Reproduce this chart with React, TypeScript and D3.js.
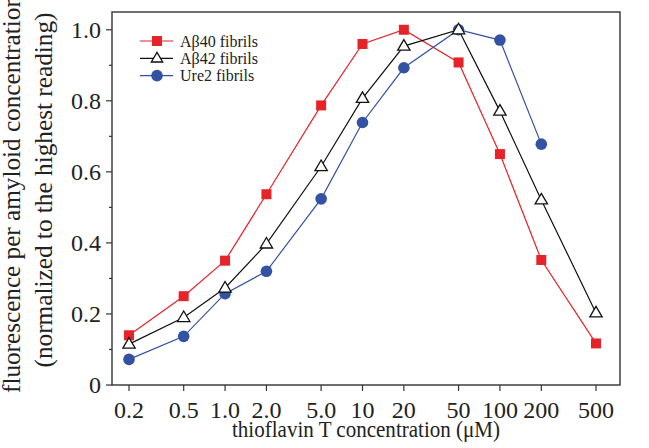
import React from "react";
import * as d3 from "d3";

const concentrations = [0.2, 0.5, 1.0, 2.0, 5.0, 10, 20, 50, 100, 200, 500];
const xTickLabels = ["0.2", "0.5", "1.0", "2.0", "5.0", "10", "20", "50", "100", "200", "500"];
const ab40 = [0.14, 0.25, 0.35, 0.537, 0.787, 0.96, 1.0, 0.908, 0.65, 0.352, 0.117];
const ab42 = [0.115, 0.19, 0.273, 0.397, 0.615, 0.807, 0.954, 1.0, 0.771, 0.521, 0.203];
const ure2 = [0.072, 0.137, 0.257, 0.32, 0.524, 0.739, 0.893, 1.0, 0.971, 0.678];
const yMajorTicks = [0, 0.2, 0.4, 0.6, 0.8, 1.0];
const yTickLabels = ["0", "0.2", "0.4", "0.6", "0.8", "1.0"];
const yMinorTicks = [0.1, 0.3, 0.5, 0.7, 0.9];
const seriesNames = ["Aβ40 fibrils", "Aβ42 fibrils", "Ure2 fibrils"];

const W = 649;
const H = 448;
const frame = { left: 112, right: 620, top: 12, bottom: 385 };
const RED = "#e52329";
const BLUE = "#3452a4";
const FONT = "'Liberation Serif', 'Times New Roman', serif";

export default function App() {
  const x = d3.scaleLog().domain([0.2, 500]).range([129, 596]);
  const y = d3.scaleLinear().domain([0, 1.05]).range([frame.bottom, frame.top]);

  const line = d3
    .line<[number, number]>()
    .x((d) => x(d[0]))
    .y((d) => y(d[1]));

  const s40 = concentrations.map((c, i) => [c, ab40[i]] as [number, number]);
  const s42 = concentrations.map((c, i) => [c, ab42[i]] as [number, number]);
  const sU = ure2.map((v, i) => [concentrations[i], v] as [number, number]);

  const sq = 10;
  const tri = (cx: number, cy: number, s = 6.5) =>
    `M${cx},${cy - s} L${cx + s * 0.95},${cy + s * 0.62} L${cx - s * 0.95},${cy + s * 0.62} Z`;

  const legendY = [41, 58.3, 75.6];

  return (
    <svg
      width={W}
      height={H}
      style={{ position: "absolute", left: 0, top: 0, background: "#fff" }}
      fontFamily={FONT}
    >
      <rect x={0} y={0} width={W} height={H} fill="#fff" />
      {/* frame */}
      <rect
        x={frame.left}
        y={frame.top}
        width={frame.right - frame.left}
        height={frame.bottom - frame.top}
        fill="none"
        stroke="#333"
        strokeWidth={1.4}
      />
      {/* y ticks */}
      {yMajorTicks.map((t, i) => (
        <g key={"ym" + i}>
          <line x1={frame.left - 6} x2={frame.left} y1={y(t)} y2={y(t)} stroke="#333" strokeWidth={1.2} />
          <text x={101} y={y(t) + 8} fontSize={24} textAnchor="end" fill="#222">
            {yTickLabels[i]}
          </text>
        </g>
      ))}
      {yMinorTicks.map((t, i) => (
        <line key={"yn" + i} x1={frame.left - 3} x2={frame.left} y1={y(t)} y2={y(t)} stroke="#333" strokeWidth={1.2} />
      ))}
      {/* x ticks */}
      {concentrations.map((c, i) => (
        <g key={"xt" + i}>
          <line x1={x(c)} x2={x(c)} y1={frame.bottom} y2={frame.bottom + 6} stroke="#333" strokeWidth={1.2} />
          <text x={x(c)} y={417.5} fontSize={24} textAnchor="middle" fill="#222">
            {xTickLabels[i]}
          </text>
        </g>
      ))}
      {/* axis titles */}
      <text
        x={366}
        y={437}
        fontSize={23}
        textAnchor="middle"
        fill="#222"
        textLength={268}
        lengthAdjust="spacingAndGlyphs"
      >
        thioflavin T concentration (μM)
      </text>
      <text
        transform="translate(20,194) rotate(-90)"
        fontSize={25}
        textAnchor="middle"
        fill="#222"
        textLength={398}
        lengthAdjust="spacingAndGlyphs"
      >
        fluorescence per amyloid concentration
      </text>
      <text
        transform="translate(52,190) rotate(-90)"
        fontSize={25}
        textAnchor="middle"
        fill="#222"
        textLength={355}
        lengthAdjust="spacingAndGlyphs"
      >
        (normalized to the highest reading)
      </text>

      {/* lines */}
      <path d={line(s40) || ""} fill="none" stroke={RED} strokeWidth={1.2} />
      <path d={line(s42) || ""} fill="none" stroke="#111" strokeWidth={1.2} />
      <path d={line(sU) || ""} fill="none" stroke={BLUE} strokeWidth={1.2} />

      {/* markers */}
      {sU.map((d, i) => (
        <circle key={"u" + i} cx={x(d[0])} cy={y(d[1])} r={5.8} fill={BLUE} />
      ))}
      {s40.map((d, i) => (
        <rect key={"r" + i} x={x(d[0]) - sq / 2} y={y(d[1]) - sq / 2} width={sq} height={sq} fill={RED} />
      ))}
      {s42.map((d, i) => (
        <path key={"t" + i} d={tri(x(d[0]), y(d[1]))} fill="#fff" stroke="#111" strokeWidth={1.3} />
      ))}

      {/* legend */}
      <line x1={140} x2={173} y1={legendY[0]} y2={legendY[0]} stroke={RED} strokeWidth={1.2} />
      <rect x={157 - sq / 2} y={legendY[0] - sq / 2} width={sq} height={sq} fill={RED} />
      <line x1={140} x2={173} y1={legendY[1]} y2={legendY[1]} stroke="#111" strokeWidth={1.2} />
      <path d={tri(157, legendY[1], 6)} fill="#fff" stroke="#111" strokeWidth={1.3} />
      <line x1={140} x2={173} y1={legendY[2]} y2={legendY[2]} stroke={BLUE} strokeWidth={1.2} />
      <circle cx={157} cy={legendY[2]} r={5.8} fill={BLUE} />
      {seriesNames.map((n, i) => (
        <text key={"l" + i} x={180} y={legendY[i] + 5.5} fontSize={16} fill="#222">
          {n}
        </text>
      ))}
    </svg>
  );
}
